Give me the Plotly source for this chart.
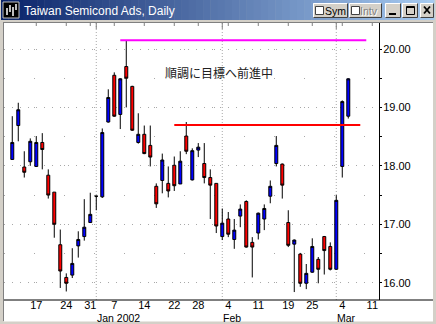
import plotly.graph_objects as go

# ---------------- data ----------------
dates = ["2001-12-11", "2001-12-12", "2001-12-13", "2001-12-14",
         "2001-12-17", "2001-12-18", "2001-12-19", "2001-12-20", "2001-12-21",
         "2001-12-24", "2001-12-26", "2001-12-27", "2001-12-28",
         "2001-12-31", "2002-01-02", "2002-01-03", "2002-01-04",
         "2002-01-07", "2002-01-08", "2002-01-09", "2002-01-10", "2002-01-11",
         "2002-01-14", "2002-01-15", "2002-01-16", "2002-01-17", "2002-01-18",
         "2002-01-22", "2002-01-23", "2002-01-24", "2002-01-25",
         "2002-01-28", "2002-01-29", "2002-01-30", "2002-01-31", "2002-02-01",
         "2002-02-04", "2002-02-05", "2002-02-06", "2002-02-07", "2002-02-08",
         "2002-02-11", "2002-02-12", "2002-02-13", "2002-02-14", "2002-02-15",
         "2002-02-19", "2002-02-20", "2002-02-21", "2002-02-22",
         "2002-02-25", "2002-02-26", "2002-02-27", "2002-02-28", "2002-03-01",
         "2002-03-04", "2002-03-05"]
opens = [18.11, 18.69, 17.98, 18.07, 17.99, 18.40, 17.84, 17.55, 16.65,
         16.09, 16.13, 16.63, 16.79, 17.03, 17.48, 17.47, 18.75,
         19.55, 18.88, 19.70, 19.36, 18.40, 18.54, 18.35, 17.65, 17.75, 17.70,
         18.01, 17.69, 18.51, 17.76, 18.27, 18.04, 17.80, 17.70, 16.79,
         17.09, 16.74, 17.14, 17.39, 16.69, 16.85, 17.09, 17.48, 18.04, 18.03,
         17.03, 16.66, 16.49, 15.99, 16.18, 16.40, 16.79, 16.62, 16.23,
         17.99, 18.85]
highs = [18.85, 19.08, 18.25, 18.47, 18.51, 18.56, 17.94, 17.55, 16.91,
         16.16, 16.59, 16.88, 17.43, 17.54, 17.49, 18.64, 19.31,
         19.60, 19.50, 20.15, 19.37, 18.90, 18.69, 18.69, 17.70, 18.21, 17.99,
         18.16, 18.25, 18.75, 18.30, 18.39, 18.39, 17.94, 17.70, 17.27,
         17.21, 17.09, 17.34, 17.41, 16.78, 17.20, 17.34, 17.75, 18.51, 18.04,
         17.24, 16.74, 16.51, 16.32, 16.76, 16.44, 16.80, 16.69, 17.50,
         19.12, 19.50]
lows = [18.10, 18.42, 17.80, 18.00, 17.98, 17.94, 17.44, 16.77, 15.91,
        15.85, 16.08, 16.43, 16.72, 17.03, 17.24, 17.45, 18.74,
        18.84, 18.63, 19.00, 18.60, 18.38, 18.20, 17.99, 17.28, 17.53, 17.46,
        17.57, 17.69, 18.20, 17.75, 18.15, 17.70, 17.09, 16.85, 16.73,
        16.78, 16.58, 16.95, 16.60, 16.09, 16.74, 16.90, 17.36, 17.99, 17.44,
        16.61, 15.84, 15.93, 15.89, 16.17, 15.99, 16.14, 16.21, 16.22,
        17.80, 18.81]
closes = [18.40, 18.96, 17.89, 18.42, 18.40, 18.28, 17.50, 17.00, 16.20,
          15.99, 16.33, 16.74, 16.95, 17.17, 17.48, 18.57, 19.17,
          18.85, 19.49, 19.50, 18.61, 18.54, 18.21, 18.15, 17.35, 18.10, 17.57,
          17.66, 18.08, 18.25, 18.26, 18.32, 17.80, 17.67, 16.97, 17.02,
          16.83, 16.90, 17.26, 16.61, 16.61, 17.19, 17.27, 17.65, 18.35, 17.67,
          16.64, 16.73, 15.99, 16.16, 16.62, 16.23, 16.55, 16.23, 17.41,
          19.10, 19.49]
future_days = ["2002-03-06", "2002-03-07", "2002-03-08", "2002-03-11"]
tick_dates = ["2001-12-17", "2001-12-24", "2001-12-31", "2002-01-07", "2002-01-14",
              "2002-01-22", "2002-01-28", "2002-02-04", "2002-02-11", "2002-02-19",
              "2002-02-25", "2002-03-04", "2002-03-11"]
month_labels = {"2002-01": "Jan 2002", "2002-02": "Feb", "2002-03": "Mar"}
level_values = [20.15, 18.70]
level_starts = ["2002-01-08", "2002-01-22"]
level_ends = ["2002-03-08", "2002-03-07"]
level_colors = ["#FF00FF", "#FF0000"]
y_tick_values = [16, 17, 18, 19, 20]
note_text = "順調に目標へ前進中"
title_text = "Taiwan Semicond Ads, Daily"

# ---------------- positions ----------------
axis_days = dates + future_days
pos = {d: i for i, d in enumerate(axis_days)}
xs = [pos[d] for d in dates]
tick_vals = [pos[d] for d in tick_dates]
tick_text = [str(int(d[8:])) for d in tick_dates]
month_starts = [i for i in range(1, len(dates)) if dates[i][:7] != dates[i - 1][:7]]

W, H = 436, 324
L, R, T, B = 4, 379, 23, 300
X_RANGE = [-1.38, 61.12]
Y_RANGE = [15.704, 20.445]


def X(px):
    return (px - L) / (R - L)


def Y(py):
    return (B - py) / (B - T)


fig = go.Figure()
fig.add_trace(go.Candlestick(
    x=xs, open=opens, high=highs, low=lows, close=closes,
    increasing=dict(fillcolor="#0000FF", line=dict(color="#000000", width=1)),
    decreasing=dict(fillcolor="#FF0000", line=dict(color="#000000", width=1)),
    whiskerwidth=0, showlegend=False, hoverinfo="skip"))

for v, s, e, c in zip(level_values, level_starts, level_ends, level_colors):
    fig.add_trace(go.Scatter(x=[pos[s], pos[e]], y=[v, v], mode="lines",
                             line=dict(color=c, width=2), showlegend=False,
                             hoverinfo="skip"))

shapes = []
annotations = []

# vertical month gridlines
for i in month_starts:
    shapes.append(dict(type="line", xref="x", yref="paper", x0=i, x1=i, y0=0, y1=1,
                       line=dict(color="#A8A8A8", width=1, dash="1px,2px"), layer="below"))
# top inner ticks
for t in tick_vals:
    shapes.append(dict(type="line", xref="x", yref="paper", x0=t, x1=t, y0=1, y1=Y(T + 3),
                       line=dict(color="#808080", width=1)))
for i in month_starts:
    shapes.append(dict(type="line", xref="x", yref="paper", x0=i, x1=i, y0=1, y1=Y(T + 6),
                       line=dict(color="#808080", width=1)))

# x axis line spanning to the window edge
shapes.append(dict(type="line", xref="paper", yref="paper", x0=X(4), x1=X(433),
                   y0=0, y1=0, line=dict(color="#000000", width=1)))

# ---- window chrome ----
GRAY = "#D4D0C8"
shapes.append(dict(type="rect", xref="paper", yref="paper", x0=X(0), x1=X(4), y0=Y(H), y1=Y(0),
                   fillcolor=GRAY, line=dict(width=0)))
shapes.append(dict(type="rect", xref="paper", yref="paper", x0=X(433), x1=X(W), y0=Y(H), y1=Y(0),
                   fillcolor=GRAY, line=dict(width=0)))
shapes.append(dict(type="rect", xref="paper", yref="paper", x0=X(0), x1=X(W), y0=Y(H), y1=Y(321.5),
                   fillcolor=GRAY, line=dict(width=0)))
shapes.append(dict(type="rect", xref="paper", yref="paper", x0=X(0), x1=X(W), y0=Y(23), y1=Y(0),
                   fillcolor=GRAY, line=dict(width=0)))
shapes.append(dict(type="line", xref="paper", yref="paper", x0=X(3.5), x1=X(3.5), y0=Y(321), y1=Y(22),
                   line=dict(color="#808080", width=1)))
shapes.append(dict(type="line", xref="paper", yref="paper", x0=X(3.5), x1=X(433), y0=Y(22.5), y1=Y(22.5),
                   line=dict(color="#808080", width=1)))

# title gradient
N = 60
c0 = (0x0A, 0x24, 0x6A)
c1 = (0xA6, 0xCA, 0xF0)
x_start, x_end = 1, 434
for k in range(N):
    f = k / (N - 1)
    col = "rgb(%d,%d,%d)" % tuple(round(a + (b - a) * f) for a, b in zip(c0, c1))
    xa = x_start + (x_end - x_start) * k / N
    xb = x_start + (x_end - x_start) * (k + 1) / N + 0.5
    shapes.append(dict(type="rect", xref="paper", yref="paper", x0=X(xa), x1=X(xb),
                       y0=Y(20), y1=Y(0), fillcolor=col, line=dict(width=0)))

# icon
shapes.append(dict(type="rect", xref="paper", yref="paper", x0=X(3), x1=X(19), y0=Y(18), y1=Y(2),
                   fillcolor="#000000", line=dict(color="#C0C0C0", width=1)))
for bx, by0, by1 in [(7, 8, 15), (10, 5, 12), (13, 7, 16), (16, 4, 10)]:
    shapes.append(dict(type="line", xref="paper", yref="paper", x0=X(bx), x1=X(bx),
                       y0=Y(by1), y1=Y(by0), line=dict(color="#FFFFFF", width=1.5)))

annotations.append(dict(text=title_text, xref="paper", yref="paper", x=X(22), y=Y(10.5),
                        xanchor="left", yanchor="middle", showarrow=False,
                        font=dict(family="Liberation Sans", size=12, color="#FFFFFF")))


def button(x0, y0, x1, y1):
    shapes.append(dict(type="rect", xref="paper", yref="paper", x0=X(x0), x1=X(x1), y0=Y(y1), y1=Y(y0),
                       fillcolor=GRAY, line=dict(width=0)))
    shapes.append(dict(type="path", xref="paper", yref="paper",
                       path="M %f %f L %f %f L %f %f" % (X(x0 + 0.5), Y(y1 - 0.5), X(x0 + 0.5), Y(y0 + 0.5), X(x1 - 0.5), Y(y0 + 0.5)),
                       line=dict(color="#FFFFFF", width=1)))
    shapes.append(dict(type="path", xref="paper", yref="paper",
                       path="M %f %f L %f %f L %f %f" % (X(x0 + 0.5), Y(y1 - 0.5), X(x1 - 0.5), Y(y1 - 0.5), X(x1 - 0.5), Y(y0 + 0.5)),
                       line=dict(color="#404040", width=1)))


def checkbox(x0, y0):
    shapes.append(dict(type="rect", xref="paper", yref="paper", x0=X(x0), x1=X(x0 + 8), y0=Y(y0 + 8), y1=Y(y0),
                       fillcolor="#FFFFFF", line=dict(color="#404040", width=1)))


button(313, 3, 348, 18)
checkbox(315.5, 6.5)
annotations.append(dict(text="Sym", xref="paper", yref="paper", x=X(335.5), y=Y(11),
                        xanchor="center", yanchor="middle", showarrow=False, borderpad=0,
                        font=dict(family="Liberation Sans", size=10.5, color="#000000")))
button(349, 3, 382, 18)
checkbox(351.5, 6.5)
annotations.append(dict(text="Intv", xref="paper", yref="paper", x=X(369.5), y=Y(11.5),
                        xanchor="center", yanchor="middle", showarrow=False, borderpad=0,
                        font=dict(family="Liberation Sans", size=10.5, color="#FFFFFF")))
annotations.append(dict(text="Intv", xref="paper", yref="paper", x=X(369), y=Y(11),
                        xanchor="center", yanchor="middle", showarrow=False, borderpad=0,
                        font=dict(family="Liberation Sans", size=10.5, color="#808080")))
button(385, 3, 401, 18)
shapes.append(dict(type="rect", xref="paper", yref="paper", x0=X(389), x1=X(396), y0=Y(15), y1=Y(13),
                   fillcolor="#000000", line=dict(width=0)))
button(402, 3, 418, 18)
shapes.append(dict(type="rect", xref="paper", yref="paper", x0=X(406.5), x1=X(414.5), y0=Y(14.5), y1=Y(6.5),
                   fillcolor="rgba(0,0,0,0)", line=dict(color="#000000", width=1)))
shapes.append(dict(type="line", xref="paper", yref="paper", x0=X(406.5), x1=X(414.5), y0=Y(7.5), y1=Y(7.5),
                   line=dict(color="#000000", width=1)))
button(420, 3, 434, 18)
for xa, ya, xb, yb in [(424, 6.5, 430, 13.5), (430, 6.5, 424, 13.5)]:
    shapes.append(dict(type="line", xref="paper", yref="paper", x0=X(xa), x1=X(xb), y0=Y(ya), y1=Y(yb),
                       line=dict(color="#000000", width=1.8)))

# month labels under the axis
for i in month_starts:
    annotations.append(dict(text=month_labels[dates[i][:7]], xref="x", yref="paper", x=i, y=Y(318),
                            xanchor="left", yanchor="middle", xshift=-1, showarrow=False,
                            font=dict(family="Liberation Sans", size=10.5, color="#000000")))

# note text
annotations.append(dict(text=note_text, xref="x", yref="y", x=34.4, y=19.59,
                        xanchor="center", yanchor="middle", showarrow=False,
                        font=dict(family="Noto Sans CJK JP", size=12, color="#202020")))

fig.update_layout(
    width=W, height=H, autosize=False,
    margin=dict(l=L, r=W - R, t=T, b=H - B, pad=0),
    paper_bgcolor="#FFFFFF", plot_bgcolor="#FFFFFF",
    showlegend=False, shapes=shapes, annotations=annotations,
    boxgap=0.3,
    font=dict(family="Liberation Sans", size=11, color="#000000"),
    xaxis=dict(range=X_RANGE, tickmode="array", tickvals=tick_vals, ticktext=tick_text,
               showgrid=False, zeroline=False, showline=False, ticks="",
               ticklabelstandoff=-3,
               rangeslider=dict(visible=False), fixedrange=True,
               tickfont=dict(family="Liberation Sans", size=11, color="#000000")),
    yaxis=dict(range=Y_RANGE, side="right", tickmode="array", tickvals=y_tick_values,
               ticktext=["%.2f" % v for v in y_tick_values],
               showgrid=True, gridcolor="#A8A8A8", griddash="1px,7px", gridwidth=1,
               zeroline=False, showline=True, linecolor="#000000", linewidth=1,
               ticks="outside", ticklen=2, tickcolor="#000000",
               ticklabelstandoff=-1,
               minor=dict(dtick=0.5, tick0=0, showgrid=True, gridcolor="#A8A8A8",
                          griddash="1px,29px", ticks="outside", ticklen=2, tickcolor="#000000"),
               tickfont=dict(family="Liberation Sans", size=11, color="#000000")),
)

fig.write_html("out.html")
